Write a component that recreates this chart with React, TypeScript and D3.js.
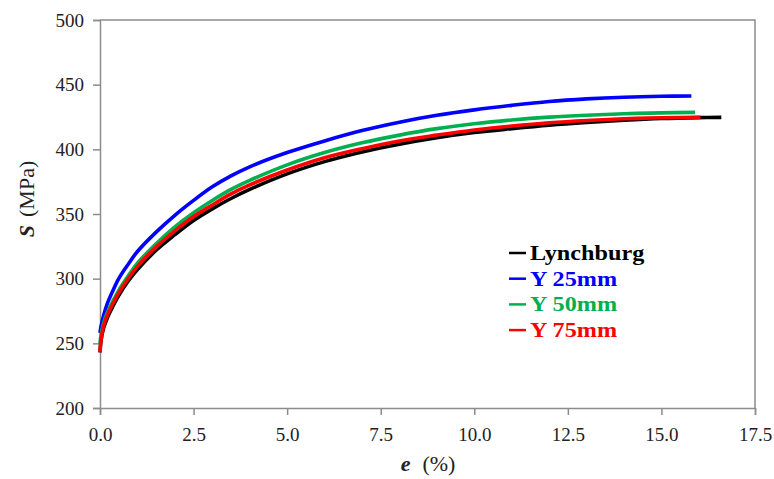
import React, { useRef, useEffect } from "react";
import { select, scaleLinear, axisLeft, axisBottom, line, curveCatmullRom } from "d3";

// strain (%) and true stress (MPa)
const strainLynchburg = [0, 0.02, 0.05, 0.1, 0.2, 0.35, 0.5, 0.75, 1, 1.5, 2, 2.5, 3, 3.5, 4, 5, 6, 7, 8, 9, 10, 11, 12, 13, 14, 15, 16, 16.6];
const stressLynchburg = [243, 250, 256, 262, 270, 279, 287, 298, 307, 322, 334, 345, 354, 362, 369, 381, 390.5, 398, 404, 409, 413, 416, 418.7, 420.8, 422.5, 423.8, 424.5, 424.7];

const strainY25 = [0, 0.02, 0.05, 0.1, 0.2, 0.35, 0.5, 0.75, 1, 1.5, 2, 2.5, 3, 3.5, 4, 5, 6, 7, 8, 9, 10, 11, 12, 13, 14, 15, 15.8];
const stressY25 = [258, 262, 266, 272, 281, 291, 300, 311, 321, 336, 349, 360.5, 371, 379.5, 386.5, 397.5, 406.5, 414.5, 421, 426.3, 430.5, 434, 437, 439, 440.3, 441, 441.2];

const strainY50 = [0, 0.02, 0.05, 0.1, 0.2, 0.35, 0.5, 0.75, 1, 1.5, 2, 2.5, 3, 3.5, 4, 5, 6, 7, 8, 9, 10, 11, 12, 13, 14, 15, 15.9];
const stressY50 = [250, 255, 260, 266, 274, 283, 291, 302, 312, 327, 340, 351, 360.5, 369, 376, 388, 397.5, 405, 411, 416, 419.8, 422.7, 424.9, 426.4, 427.5, 428.2, 428.6];

const strainY75 = [0, 0.02, 0.05, 0.1, 0.2, 0.35, 0.5, 0.75, 1, 1.5, 2, 2.5, 3, 3.5, 4, 5, 6, 7, 8, 9, 10, 11, 12, 13, 14, 15, 16.04];
const stressY75 = [243, 251, 257, 264, 272, 281, 289, 300, 309.5, 324.5, 337, 348, 357, 365.5, 372.5, 384, 393.5, 400.5, 406.5, 411, 415, 418, 420.5, 422.3, 423.6, 424.4, 424.7];

const seriesNames = ["Lynchburg", "Y 25mm", "Y 50mm", "Y 75mm"];
const seriesColors = ["#000000", "#0000ff", "#00b050", "#ff0000"];

const xTicks = [0, 2.5, 5, 7.5, 10, 12.5, 15, 17.5];
const yTicks = [200, 250, 300, 350, 400, 450, 500];

const W = 774, H = 479;
const left = 100, right = 755, top = 20, bottom = 408;
const FONT = "'Liberation Serif', 'Times New Roman', serif";

function App() {
  const svgRef = useRef<SVGSVGElement>(null);

  const xscale = scaleLinear().domain([0, 17.5]).range([left, right]);
  const yscale = scaleLinear().domain([200, 500]).range([bottom, top]);

  const series = [
    { strain: strainLynchburg, stress: stressLynchburg },
    { strain: strainY25, stress: stressY25 },
    { strain: strainY50, stress: stressY50 },
    { strain: strainY75, stress: stressY75 },
  ].map((s, i) => ({
    name: seriesNames[i],
    color: seriesColors[i],
    pts: s.strain.map((e, j) => [e, s.stress[j]] as [number, number]),
  }));

  const myLine = line<[number, number]>()
    .x(d => xscale(d[0]))
    .y(d => yscale(d[1]))
    .curve(curveCatmullRom.alpha(0.5));

  useEffect(() => {
    const svg = select(svgRef.current);

    const yaxis = axisLeft(yscale).tickValues(yTicks).tickSize(7).tickPadding(9).tickFormat(d => String(d));
    const gy = svg.select<SVGGElement>(".y-axis").attr("transform", `translate(${left},0)`).call(yaxis);
    const xaxis = axisBottom(xscale).tickValues(xTicks).tickSize(7).tickPadding(13).tickFormat(d => (+d).toFixed(1));
    const gx = svg.select<SVGGElement>(".x-axis").attr("transform", `translate(0,${bottom})`).call(xaxis);

    [gx, gy].forEach(g => {
      g.select(".domain").attr("stroke", "#8c8c8c").attr("stroke-width", 1.5);
      g.selectAll(".tick line").attr("stroke", "#8c8c8c").attr("stroke-width", 1.5);
      g.selectAll(".tick text").attr("fill", "#222").style("font-family", FONT).style("font-size", "19px");
    });
  }, []);

  return (
    <svg ref={svgRef} width={W} height={H} style={{ position: "absolute", left: 0, top: 0, background: "#fff" }}>
      <rect x={0} y={0} width={W} height={H} fill="#fff" />
      <path d={`M${left},${top}H${right}V${bottom}`} fill="none" stroke="#8c8c8c" strokeWidth={1.5} />
      <g className="x-axis"></g>
      <g className="y-axis"></g>

      {series.map(s => (
        <path key={s.name} d={myLine(s.pts) || ""} fill="none" stroke={s.color} strokeWidth={3.6} strokeLinejoin="round" />
      ))}

      <g className="legend" style={{ fontFamily: FONT, fontWeight: "bold", fontSize: "22px" }}>
        {series.map((s, i) => (
          <g key={s.name} transform={`translate(509,${253 + i * 25.7})`}>
            <line x1={0} x2={17} y1={0} y2={0} stroke={s.color} strokeWidth={2.5} />
            <text x={21} y={7} fill={s.color} transform="scale(1.1,1)" style={{ transformOrigin: "21px 0px" }}>{s.name}</text>
          </g>
        ))}
      </g>

      <text transform={`translate(34,199) rotate(-90)`} textAnchor="middle" style={{ fontFamily: FONT, fontSize: "22px" }} fill="#222">
        <tspan fontWeight="bold" fontStyle="italic">S</tspan>
        <tspan dx={8}>(MPa)</tspan>
      </text>
      <text x={428} y={471} textAnchor="middle" style={{ fontFamily: FONT, fontSize: "22px" }} fill="#222">
        <tspan fontWeight="bold" fontStyle="italic">e</tspan>
        <tspan dx={12}>(%)</tspan>
      </text>
    </svg>
  );
}

export default App;
